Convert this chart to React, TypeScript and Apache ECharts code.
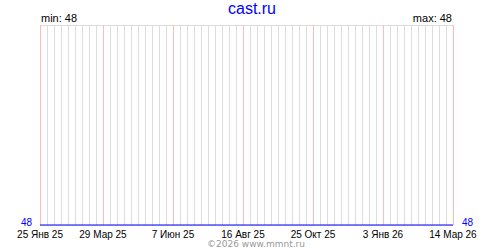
import React, { useEffect, useRef } from "react";
import * as echarts from "echarts";

const title = "cast.ru";
const footer = "©2026 www.mmnt.ru";
const startDate = "2025-01-25";
const endDate = "2026-03-14";
const pointDates = ["2025-01-25", "2026-03-14"];
const pointValues = [48, 48];
const labelDates = ["2025-01-25", "2025-03-29", "2025-06-07", "2025-08-16", "2025-10-25", "2026-01-03", "2026-03-14"];
const monthNames = ["Янв", "Фев", "Мар", "Апр", "Май", "Июн", "Июл", "Авг", "Сен", "Окт", "Ноя", "Дек"];
const minValue = 48;
const maxValue = 48;

const DAY = 86400000;
const toDay = (s: string) => Math.round((Date.parse(s + "T00:00:00Z") - Date.parse(startDate + "T00:00:00Z")) / DAY);
const fmt = (d: number) => {
  const dt = new Date(Date.parse(startDate + "T00:00:00Z") + d * DAY);
  return `${dt.getUTCDate()} ${monthNames[dt.getUTCMonth()]} ${String(dt.getUTCFullYear()).slice(2)}`;
};

export default function App() {
  const ref = useRef<HTMLDivElement>(null);
  useEffect(() => {
    document.body.style.margin = "0";
    const chart = echarts.init(ref.current!, null, { renderer: "svg" });
    const total = toDay(endDate);
    const labelDays = labelDates.map(toDay);
    const font = "Liberation Sans";
    chart.setOption({
      animation: false,
      backgroundColor: "#ffffff",
      textStyle: { fontFamily: font },
      grid: { left: 40, right: 47, top: 25, bottom: 25, containLabel: false },
      graphic: [
        { type: "text", x: 252, y: 8, style: { text: title, fill: "#0000ff", font: `16px ${font}`, textAlign: "center", textVerticalAlign: "middle" } },
        { type: "text", x: 41, y: 18, style: { text: `min: ${minValue}`, fill: "#000", font: `11px ${font}`, textAlign: "left", textVerticalAlign: "middle" } },
        { type: "text", x: 452, y: 18, style: { text: `max: ${maxValue}`, fill: "#000", font: `11px ${font}`, textAlign: "right", textVerticalAlign: "middle" } },
        { type: "text", x: 256, y: 243.5, style: { text: footer, fill: "#999999", font: `9px DejaVu Sans`, textAlign: "center", textVerticalAlign: "middle" } },
      ],
      xAxis: {
        type: "value",
        min: 0,
        max: total,
        interval: 7,
        axisLine: { show: false },
        axisTick: { show: false },
        splitLine: { show: true, lineStyle: { color: "#dddddd", width: 1 } },
        axisLabel: {
          show: true,
          showMinLabel: true,
          showMaxLabel: true,
          margin: 4,
          color: "#000",
          fontSize: 10,
          lineHeight: 10,
          fontFamily: font,
          formatter: (v: number) => (labelDays.includes(v) ? fmt(v) : ""),
        },
      },
      yAxis: [
        {
          type: "value",
          min: 48,
          max: 49,
          interval: 1,
          position: "left",
          axisLine: { show: false },
          axisTick: { show: false },
          splitLine: { show: true, lineStyle: { color: "#dddddd" } },
          axisLabel: { margin: 8, color: "#0000ff", fontSize: 10, fontFamily: font, lineHeight: 5, verticalAlign: "bottom", formatter: (v: number) => (v === minValue ? String(v) : "") },
        },
        {
          type: "value",
          min: 48,
          max: 49,
          interval: 1,
          position: "right",
          axisLine: { show: false },
          axisTick: { show: false },
          splitLine: { show: false },
          axisLabel: { margin: 9, color: "#0000ff", fontSize: 10, fontFamily: font, lineHeight: 5, verticalAlign: "bottom", formatter: (v: number) => (v === maxValue ? String(v) : "") },
        },
      ],
      series: [
        {
          type: "line",
          data: pointDates.map((d, i) => [toDay(d), pointValues[i]]),
          showSymbol: false,
          clip: false,
          lineStyle: { color: "#0000ff", width: 1 },
          z: 5,
          markLine: {
            silent: true,
            symbol: "none",
            label: { show: false },
            lineStyle: { color: "#ffbbbb", width: 1, type: "solid" },
            data: labelDays.map((d) => ({ xAxis: d })),
          },
        },
      ],
    });
    return () => chart.dispose();
  }, []);
  return <div ref={ref} style={{ width: 500, height: 250, position: "absolute", left: 0, top: 0 }} />;
}
